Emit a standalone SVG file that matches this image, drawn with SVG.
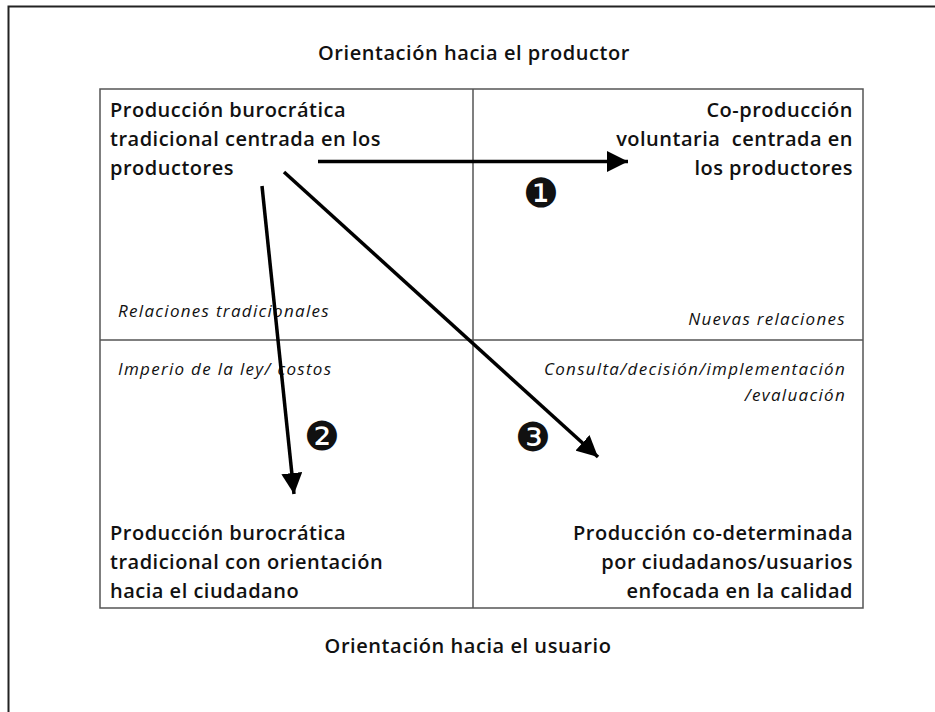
<svg xmlns="http://www.w3.org/2000/svg" width="935" height="712" viewBox="0 0 935 712">
<defs>
<style>
.t{font-family:"Open Sans","Liberation Sans",sans-serif;font-size:20px;letter-spacing:0.5px;font-weight:600;fill:#111}
.h{font-family:"Open Sans","Liberation Sans",sans-serif;font-size:20px;letter-spacing:0.55px;font-weight:600;fill:#111}
.i{font-family:"Open Sans","Liberation Sans",sans-serif;font-size:17px;letter-spacing:1.3px;font-style:italic;font-weight:400;fill:#111}
.n{font-family:"DejaVu Sans",sans-serif;font-size:40px;fill:#111}
.g{fill:none;stroke:#555;stroke-width:1.5}
.a{fill:none;stroke:#000;stroke-width:3.5}
</style>
<marker id="ah" viewBox="0 0 10 10" refX="10" refY="5" markerWidth="6" markerHeight="6" markerUnits="strokeWidth" orient="auto">
<path d="M0,0 L10,5 L0,10 Z" fill="#000"/>
</marker>
</defs>
<rect width="935" height="712" fill="#fff"/>
<path d="M8.5,712 V6.5 H935" fill="none" stroke="#222" stroke-width="2"/>
<g id="grid">
<rect class="g" x="100" y="89" width="763" height="519"/>
<line class="g" x1="473" y1="89" x2="473" y2="608"/>
<line class="g" x1="100" y1="340" x2="863" y2="340"/>
</g>
<g id="title-top"><text class="h" x="474" y="60" text-anchor="middle">Orientación hacia el productor</text></g>
<g id="title-bottom"><text class="h" x="468" y="653" text-anchor="middle">Orientación hacia el usuario</text></g>
<g id="q1">
<text class="t" x="110" y="117">Producción burocrática</text>
<text class="t" x="110" y="146">tradicional centrada en los</text>
<text class="t" x="110" y="175">productores</text>
<text class="i" x="118" y="317">Relaciones tradicionales</text>
</g>
<g id="q2">
<text class="t" x="853" y="117" text-anchor="end">Co-producción</text>
<text class="t" x="853" y="146" text-anchor="end" xml:space="preserve">voluntaria  centrada en</text>
<text class="t" x="853" y="175" text-anchor="end">los productores</text>
<text class="i" x="846" y="325" text-anchor="end">Nuevas relaciones</text>
</g>
<g id="q3">
<text class="i" x="118" y="375">Imperio de la ley/ costos</text>
<text class="t" x="110" y="540">Producción burocrática</text>
<text class="t" x="110" y="569">tradicional con orientación</text>
<text class="t" x="110" y="598">hacia el ciudadano</text>
</g>
<g id="q4">
<text class="i" x="846" y="375" text-anchor="end">Consulta/decisión/implementación</text>
<text class="i" x="846" y="401" text-anchor="end">/evaluación</text>
<text class="t" x="853" y="540" text-anchor="end">Producción co-determinada</text>
<text class="t" x="853" y="569" text-anchor="end">por ciudadanos/usuarios</text>
<text class="t" x="853" y="598" text-anchor="end">enfocada en la calidad</text>
</g>
<g id="connectors">
<line class="a" x1="318" y1="161.5" x2="628" y2="161.5" marker-end="url(#ah)"/>
<line class="a" x1="262" y1="186" x2="294" y2="494" marker-end="url(#ah)"/>
<line class="a" x1="284" y1="172" x2="598" y2="457" marker-end="url(#ah)"/>
</g>
<g id="labels">
<text class="n" x="541" y="207" text-anchor="middle">❶</text>
<text class="n" x="322" y="450" text-anchor="middle">❷</text>
<text class="n" x="533" y="451" text-anchor="middle">❸</text>
</g>
</svg>
